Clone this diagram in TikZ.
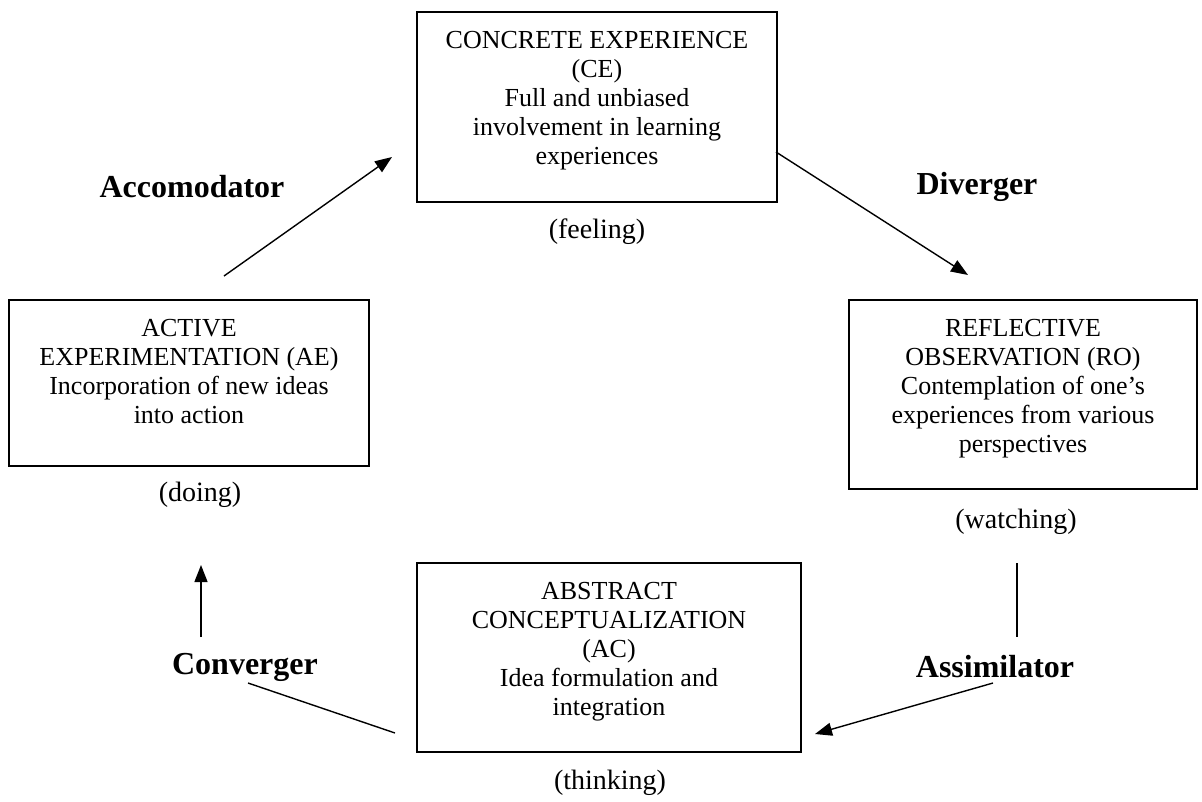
\documentclass[tikz,border=0pt]{standalone}
\usepackage{fontspec}
\setmainfont{Liberation Serif}
\usetikzlibrary{arrows.meta}
\begin{document}
\begin{tikzpicture}[x=1pt,y=-1pt,
  stage/.style={draw,line width=1.6pt,inner sep=0pt},
  stagetext/.style={anchor=north,align=center,inner sep=0pt,
    font=\fontsize{26}{29}\selectfont},
  mode/.style={inner sep=0pt,font=\fontsize{28}{32}\selectfont},
  learner/.style={inner sep=0pt,font=\bfseries\fontsize{32}{36}\selectfont},
  flow/.style={line width=1.4pt,-{Triangle[length=17pt,width=13pt]}},
  link/.style={line width=1.4pt}]
\useasboundingbox (0,0) rectangle (1202,801);

% the four stages of the cycle
\node[stage,minimum width=360pt,minimum height=190pt] (ce) at (597,107) {};
\node[stagetext] (cet) at ([yshift=-20pt]ce.north)
  {CONCRETE EXPERIENCE\\(CE)\\Full and unbiased\\involvement in learning\\experiences};
\node[mode] (feel) at (597,232) {(feeling)};

\node[stage,minimum width=348pt,minimum height=189pt] (ro) at (1023,394.5) {};
\node[stagetext] (rot) at ([yshift=-20pt]ro.north)
  {REFLECTIVE\\OBSERVATION (RO)\\Contemplation of one’s\\experiences from various\\perspectives};
\node[mode] (watch) at (1016,522) {(watching)};

\node[stage,minimum width=384pt,minimum height=189pt] (ac) at (609,657.5) {};
\node[stagetext] (act) at ([yshift=-20pt]ac.north)
  {ABSTRACT\\CONCEPTUALIZATION\\(AC)\\Idea formulation and\\integration};
\node[mode] (think) at (610,783) {(thinking)};

\node[stage,minimum width=360pt,minimum height=166pt] (ae) at (189,383) {};
\node[stagetext] (aet) at ([yshift=-20pt]ae.north)
  {ACTIVE\\EXPERIMENTATION (AE)\\Incorporation of new ideas\\into action};
\node[mode] (do) at (200,495) {(doing)};

% learning styles between the stages
\node[learner] (acc) at (192,187) {Accomodator};
\node[learner] (div) at (977,187) {Diverger};
\node[learner] (ass) at (995,667) {Assimilator};
\node[learner] (con) at (245,667) {Converger};

% connectors
\coordinate (accA) at (224,276);
\coordinate (accB) at (392,157);
\draw[flow] (accA) -- (accB);

\coordinate (divA) at (776,152);
\coordinate (divB) at (968,275);
\draw[flow] (divA) -- (divB);

\coordinate (assA) at (1017,563);
\coordinate (assB) at (1017,637);
\draw[link] (assA) -- (assB);
\coordinate (assC) at (993,683);
\coordinate (assD) at (815,734);
\draw[flow] (assC) -- (assD);

\coordinate (conA) at (395,733);
\coordinate (conB) at (248,683);
\draw[link] (conA) -- (conB);
\coordinate (conC) at (201,637);
\coordinate (conD) at (201,565);
\draw[flow] (conC) -- (conD);
\end{tikzpicture}
\end{document}
